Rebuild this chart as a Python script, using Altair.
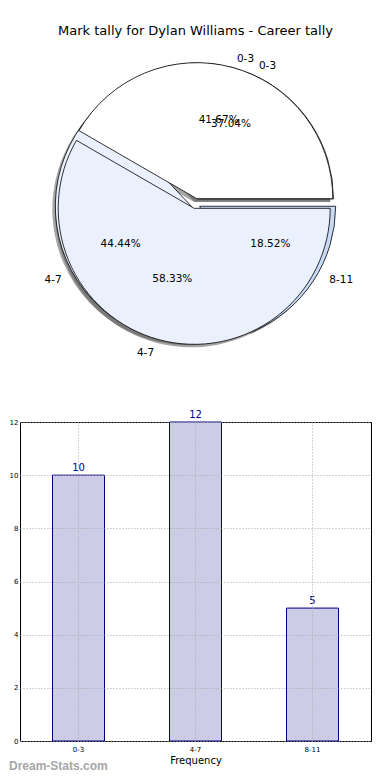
import math
import altair as alt
import pandas as pd

# ---- data ----
categories = ["0-3", "4-7", "8-11"]
tally = [10, 12, 5]
pie1_categories = ["0-3", "4-7"]
pie1_values = [10, 14]
title_text = "Mark tally for Dylan Williams - Career tally"
x_title = "Frequency"
watermark = "Dream-Stats.com"
wedge_colors = ["#ffffff", "#eaf0fc", "#c6daf6"]

FONT = "DejaVu Sans"
R = 136
RX, RY = 141, 128  # the reference pie is slightly elliptical; used to nudge labels
EXPLODE = 5
TEXT_LIFT = -4
PW, PH = 351, 313

pie_rows = []
for i, (c, v) in enumerate(zip(categories, tally)):
    pie_rows.append({"pie": "all", "cat": c, "value": v, "order": i})
for i, (c, v) in enumerate(zip(pie1_categories, pie1_values)):
    pie_rows.append({"pie": "two", "cat": c, "value": v, "order": i})
pie_df = pd.DataFrame(pie_rows)

theta_scale = alt.Scale(domain=[0, 1], range=[2.5 * math.pi, 0.5 * math.pi])
color_enc = alt.Color("cat:N", scale=alt.Scale(domain=categories, range=wedge_colors), legend=None)

base = (
    alt.Chart(pie_df)
    .transform_joinaggregate(total="sum(value)", groupby=["pie"])
    .transform_window(cum="sum(value)", sort=[alt.SortField("order")], groupby=["pie"], frame=[None, 0])
    .transform_calculate(
        start="(datum.cum - datum.value) / datum.total",
        end="datum.cum / datum.total",
        mid="(datum.cum - datum.value / 2) / datum.total",
        pct="format(datum.value / datum.total * 100, '.2f') + '%'",
    )
)


def mid_fractions(values):
    tot = float(sum(values))
    out, acc = [], 0.0
    for v in values:
        out.append((acc + v / 2.0) / tot)
        acc += v
    return out


def wedge_layers(pie, cats, values):
    shadows, arcs, texts = [], [], []
    for cat, mid in zip(cats, mid_fractions(values)):
        ang = 2 * math.pi * mid
        ca, sa = math.cos(ang), math.sin(ang)
        dx = EXPLODE * ca
        dy = -EXPLODE * sa
        ch = base.transform_filter((alt.datum.pie == pie) & (alt.datum.cat == cat))
        th = alt.Theta("start:Q", scale=theta_scale)
        shadows.append(
            ch.mark_arc(outerRadius=R, xOffset=dx - 3, yOffset=dy + 3, opacity=0.5).encode(
                theta=th, theta2="end:Q", color=alt.value("#4d4d4d")
            )
        )
        arcs.append(
            ch.mark_arc(outerRadius=R, xOffset=dx, yOffset=dy, stroke="black", strokeWidth=0.8).encode(
                theta=th, theta2="end:Q", color=color_enc
            )
        )
        tm = alt.Theta("mid:Q", scale=theta_scale)
        align = "left" if ca >= 0 else "right"
        lx = dx + 1.1 * (RX - R) * ca
        if sa < -0.8:
            # keep bottom labels clear of the (round) rim
            ly = dy
        else:
            ly = dy - 1.1 * (RY - R) * sa + TEXT_LIFT
        texts.append(
            ch.mark_text(align=align, baseline="middle", fontSize=10.5, font=FONT, color="black",
                         xOffset=lx, yOffset=ly).encode(theta=tm, radius=alt.value(R * 1.1), text="cat:N")
        )
        px = dx + 0.6 * (RX - R) * ca
        py = dy - 0.6 * (RY - R) * sa + TEXT_LIFT
        texts.append(
            ch.mark_text(align="center", baseline="middle", fontSize=10.5, font=FONT, color="black",
                         xOffset=px, yOffset=py).encode(theta=tm, radius=alt.value(R * 0.6), text="pct:N")
        )
    return shadows, arcs, texts


sh2, arcs2, texts2 = wedge_layers("all", categories, tally)
sh1, arcs1, texts1 = wedge_layers("two", pie1_categories, pie1_values)

pie_chart = alt.layer(*(sh2 + sh1 + arcs2 + arcs1 + texts1 + texts2)).properties(
    width=PW,
    height=PH,
    title=alt.Title(title_text, fontSize=13, font=FONT, fontWeight="normal", color="black", offset=9),
)

# ---- bar chart ----
bar_df = pd.DataFrame({"cat": categories, "count": tally})
bx = alt.X(
    "cat:N",
    sort=categories,
    scale=alt.Scale(paddingInner=0, paddingOuter=0),
    axis=alt.Axis(
        title=x_title, labelAngle=0, labelFontSize=7, titleFontSize=10, titleFont=FONT, labelFont=FONT,
        grid=True, gridDash=[1, 2], gridColor="#a8a8a8", domain=False, ticks=False, tickSize=0,
        labelPadding=4, titlePadding=3, bandPosition=0.5, labelColor="black",
        titleColor="black", titleFontWeight="normal", zindex=1,
    ),
)
by = alt.Y(
    "count:Q",
    scale=alt.Scale(domain=[0, 12], nice=False),
    axis=alt.Axis(
        title=None, values=[0, 2, 4, 6, 8, 10, 12], labelFontSize=7, labelFont=FONT, labelColor="black",
        grid=True, gridDash=[1, 2], gridColor="#a8a8a8", domain=False, ticks=False, tickSize=0,
        labelPadding=2, zindex=1,
    ),
)
bars = alt.Chart(bar_df).mark_bar(width=52, fill="#ccccE6", stroke="#000080", strokeWidth=1).encode(x=bx, y=by)
vals = alt.Chart(bar_df).mark_text(dy=-7, fontSize=10, color="#00008b", font=FONT).encode(
    x=bx, y=by, text="count:Q"
)
wm = alt.Chart(pd.DataFrame({"t": [watermark]})).mark_text(
    align="left", baseline="middle", fontSize=12, fontWeight="bold", color="#a6a6a6", font="Liberation Sans"
).encode(x=alt.value(-11), y=alt.value(344), text="t:N")

bar_chart = alt.layer(bars, vals, wm).properties(
    width=351, height=319, view=alt.ViewBackground(stroke="black", strokeWidth=1)
)

chart = (
    alt.vconcat(pie_chart, bar_chart, spacing=49)
    .properties(padding={"top": 17, "left": 0, "right": 0, "bottom": 0})
    .configure_view(stroke=None)
)

chart.save("out.html", embed_options={"renderer": "svg", "actions": False})
